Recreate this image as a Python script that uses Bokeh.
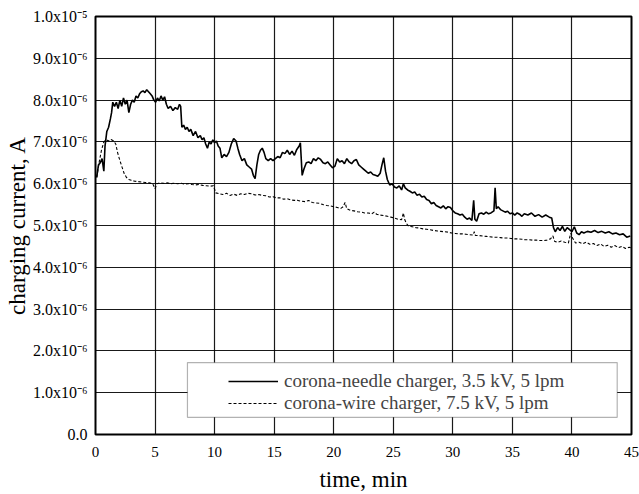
from bokeh.plotting import figure
from bokeh.models import (FixedTicker, Legend, LegendItem, BoxAnnotation, Range1d)
from bokeh.embed import file_html
from bokeh.resources import INLINE

# ---------------- data ----------------
needle_t = [0.1, 0.25, 0.4, 0.55, 0.7, 0.8, 0.95, 1.1, 1.25, 1.35, 1.45, 1.6, 1.75, 1.9,
            2.05, 2.2, 2.35, 2.5, 2.65, 2.8, 2.95, 3.1, 3.25, 3.4, 3.55, 3.7, 3.85, 4.0,
            4.15, 4.3, 4.45, 4.6, 4.75, 4.9, 5.05, 5.2, 5.35, 5.5, 5.65, 5.8, 5.95, 6.1,
            6.3, 6.5, 6.7, 6.9, 7.05, 7.15, 7.25, 7.4, 7.55, 7.7, 7.85, 8.0, 8.2, 8.4,
            8.6, 8.8, 8.95, 9.1, 9.25, 9.4, 9.55, 9.7, 9.85, 10.0, 10.15, 10.3, 10.45,
            10.6, 10.8, 11.0, 11.2, 11.4, 11.6, 11.8, 11.95, 12.1, 12.3, 12.5, 12.7,
            12.9, 13.1, 13.25, 13.4, 13.55, 13.7, 13.85, 14.0, 14.15, 14.3, 14.5, 14.7,
            14.9, 15.1, 15.3, 15.5, 15.7, 15.9, 16.1, 16.3, 16.5, 16.7, 16.9, 17.1,
            17.2, 17.35, 17.5, 17.7, 17.9, 18.1, 18.3, 18.5, 18.7, 18.9, 19.1, 19.3,
            19.5, 19.7, 19.9, 20.1, 20.3, 20.5, 20.7, 20.9, 21.1, 21.3, 21.5, 21.7,
            21.9, 22.1, 22.3, 22.5, 22.7, 22.9, 23.1, 23.3, 23.5, 23.7, 23.9, 24.05,
            24.2, 24.35, 24.5, 24.7, 24.9, 25.1, 25.3, 25.5, 25.7, 25.85, 26.0, 26.2,
            26.4, 26.6, 26.8, 27.0, 27.2, 27.4, 27.6, 27.8, 28.0, 28.2, 28.4, 28.6,
            28.8, 29.0, 29.2, 29.4, 29.6, 29.8, 30.0, 30.2, 30.4, 30.6, 30.8, 31.0,
            31.2, 31.4, 31.6, 31.75, 31.85, 32.0, 32.2, 32.4, 32.6, 32.8, 33.0, 33.2,
            33.45, 33.55, 33.65, 33.8, 34.0, 34.2, 34.4, 34.6, 34.8, 35.0, 35.2, 35.4,
            35.6, 35.8, 36.0, 36.3, 36.6, 36.9, 37.2, 37.5, 37.8, 38.1, 38.3, 38.45,
            38.6, 38.8, 39.0, 39.2, 39.4, 39.6, 39.8, 40.0, 40.2, 40.4, 40.6, 40.8,
            41.0, 41.3, 41.6, 41.9, 42.2, 42.5, 42.8, 43.1, 43.4, 43.7, 44.0, 44.3,
            44.6, 44.9]
needle_i = [6.15, 6.45, 6.5, 6.6, 6.3, 6.9, 7.25, 7.35, 7.55, 7.7, 7.95, 7.85, 7.95, 7.8,
            8.0, 7.85, 8.05, 7.9, 8.0, 7.7, 7.9, 8.0, 7.95, 8.1, 8.05, 8.15, 8.2, 8.22,
            8.18, 8.25, 8.2, 8.15, 8.1, 8.0, 7.95, 8.05, 7.98, 8.1, 8.0, 8.08, 7.9, 7.8,
            7.85, 7.75, 7.82, 7.78, 7.9, 7.85, 7.35, 7.4, 7.3, 7.35, 7.25, 7.3, 7.15, 7.25,
            7.1, 7.15, 7.05, 7.1, 6.95, 6.85, 7.0, 6.95, 7.05, 6.98, 7.02, 6.9, 6.85,
            6.62, 6.7, 6.65, 6.75, 6.95, 7.08, 7.02, 6.85, 6.7, 6.55, 6.6, 6.45,
            6.4, 6.35, 6.2, 6.12, 6.45, 6.7, 6.8, 6.85, 6.75, 6.6, 6.55, 6.6,
            6.55, 6.6, 6.65, 6.62, 6.75, 6.72, 6.8, 6.7, 6.78, 6.68, 6.82, 6.9,
            6.98, 6.2, 6.35, 6.5, 6.52, 6.48, 6.6, 6.55, 6.62, 6.58, 6.5, 6.48,
            6.52, 6.45, 6.38, 6.42, 6.6, 6.52, 6.55, 6.48, 6.6, 6.52, 6.48, 6.55,
            6.58, 6.45, 6.4, 6.35, 6.3, 6.25, 6.28, 6.22, 6.2, 6.18, 6.25, 6.45,
            6.62, 6.3, 6.1, 5.97, 6.0, 5.92, 5.9, 5.95, 5.85, 6.0, 5.9, 5.85,
            5.82, 5.78, 5.8, 5.72, 5.75, 5.68, 5.7, 5.62, 5.6, 5.52, 5.55, 5.48,
            5.45, 5.42, 5.47, 5.4, 5.45, 5.43, 5.35, 5.3, 5.28, 5.25, 5.27, 5.2,
            5.15, 5.18, 5.12, 5.6, 5.15, 5.1, 5.28, 5.3, 5.27, 5.32, 5.28, 5.3,
            5.35, 5.9, 5.4, 5.45, 5.38, 5.35, 5.32, 5.34, 5.28, 5.3, 5.25, 5.3,
            5.27, 5.22, 5.28, 5.25, 5.3, 5.22, 5.26, 5.2, 5.25, 5.2, 5.18, 4.95,
            4.85, 4.95, 4.88, 4.98, 4.86, 4.95, 4.9, 4.85, 4.97, 4.82, 4.78, 4.85,
            4.82, 4.86, 4.84, 4.88, 4.83, 4.86, 4.82, 4.85, 4.8, 4.82, 4.78, 4.8,
            4.72, 4.75]

wire_t = [0.1, 0.3, 0.5, 0.7, 0.9, 1.1, 1.3, 1.5, 1.7, 1.85, 2.0, 2.2, 2.4, 2.6, 2.8,
          3.0, 3.3, 3.6, 3.9, 4.2, 4.5, 4.8, 5.0, 5.15, 5.4, 5.7, 6.0, 6.3, 6.6, 6.9,
          7.2, 7.5, 7.8, 8.1, 8.4, 8.7, 9.0, 9.3, 9.6, 9.9, 10.1, 10.4, 10.7, 11.0,
          11.3, 11.6, 11.9, 12.2, 12.5, 12.8, 13.1, 13.4, 13.7, 14.0, 14.3, 14.6,
          14.9, 15.2, 15.5, 15.8, 16.1, 16.4, 16.7, 17.0, 17.3, 17.6, 17.9, 18.2,
          18.5, 18.8, 19.1, 19.4, 19.7, 20.0, 20.3, 20.6, 20.8, 20.95, 21.1, 21.4,
          21.7, 22.0, 22.3, 22.6, 22.9, 23.2, 23.4, 23.6, 23.9, 24.2, 24.5, 24.8,
          25.1, 25.4, 25.7, 25.85, 25.95, 26.1, 26.3, 26.6, 26.9, 27.2, 27.5, 27.8,
          28.1, 28.4, 28.7, 29.0, 29.3, 29.6, 29.9, 30.2, 30.5, 30.8, 31.1, 31.4,
          31.7, 31.8, 31.9, 32.2, 32.5, 32.8, 33.1, 33.4, 33.7, 34.0, 34.3, 34.6,
          34.9, 35.2, 35.5, 35.8, 36.1, 36.4, 36.7, 37.0, 37.3, 37.6, 37.9, 38.2,
          38.4, 38.55, 38.8, 39.1, 39.4, 39.7, 39.9, 40.05, 40.3, 40.6, 40.9, 41.2,
          41.5, 41.8, 42.1, 42.4, 42.7, 43.0, 43.3, 43.6, 43.9, 44.2, 44.5, 44.8, 45.0]
wire_i = [6.15, 6.5, 6.8, 7.0, 7.05, 7.02, 7.06, 7.03, 6.95, 6.75, 6.6, 6.42, 6.25, 6.15, 6.1,
          6.08, 6.06, 6.05, 6.04, 6.03, 6.02, 6.0, 5.88, 6.0, 6.02, 6.01, 6.02, 6.0, 6.01, 6.0,
          6.01, 5.99, 6.0, 5.98, 5.97, 5.98, 5.96, 5.95, 5.94, 5.95, 5.78, 5.76, 5.74, 5.77,
          5.72, 5.75, 5.72, 5.76, 5.74, 5.77, 5.76, 5.73, 5.74, 5.72, 5.71, 5.68,
          5.69, 5.66, 5.66, 5.63, 5.64, 5.61, 5.6, 5.6, 5.58, 5.57, 5.6, 5.55,
          5.54, 5.53, 5.5, 5.48, 5.47, 5.45, 5.43, 5.41, 5.45, 5.55, 5.4, 5.36,
          5.35, 5.33, 5.32, 5.3, 5.3, 5.28, 5.32, 5.27, 5.25, 5.24, 5.22, 5.2,
          5.18, 5.15, 5.14, 5.3, 5.15, 5.05, 4.98, 4.97, 4.95, 4.94, 4.92, 4.91,
          4.9, 4.88, 4.87, 4.86, 4.85, 4.84, 4.82, 4.81, 4.8, 4.8, 4.79, 4.78,
          4.77, 4.85, 4.76, 4.76, 4.75, 4.74, 4.73, 4.72, 4.72, 4.71, 4.7, 4.7,
          4.69, 4.68, 4.68, 4.67, 4.66, 4.66, 4.65, 4.65, 4.64, 4.64, 4.65, 4.68,
          4.75, 4.62, 4.6, 4.63, 4.6, 4.58, 4.82, 4.7, 4.58, 4.6, 4.56, 4.6,
          4.55, 4.57, 4.52, 4.56, 4.5, 4.53, 4.48, 4.52, 4.47, 4.5, 4.45, 4.48, 4.46]

# values above are in units of 1e-6 A
needle_amp = [v * 1e-6 for v in needle_i]
wire_amp = [v * 1e-6 for v in wire_i]

x_ticks = [0, 5, 10, 15, 20, 25, 30, 35, 40, 45]
y_ticks = [0.0, 1e-6, 2e-6, 3e-6, 4e-6, 5e-6, 6e-6, 7e-6, 8e-6, 9e-6, 1e-5]
y_tick_labels = ["0.0", "1.0x10\u207b\u2076", "2.0x10\u207b\u2076", "3.0x10\u207b\u2076",
                 "4.0x10\u207b\u2076", "5.0x10\u207b\u2076", "6.0x10\u207b\u2076",
                 "7.0x10\u207b\u2076", "8.0x10\u207b\u2076", "9.0x10\u207b\u2076",
                 "1.0x10\u207b\u2075"]
series_labels = ["corona-needle charger, 3.5 kV, 5 lpm",
                 "corona-wire charger, 7.5 kV, 5 lpm"]

FONT = "Liberation Serif"

p = figure(width=639, height=494, output_backend="svg", toolbar_location=None,
           x_range=Range1d(0, 45), y_range=Range1d(0, 1e-5),
           min_border_left=95, min_border_right=8, min_border_top=16, min_border_bottom=59)
p.background_fill_color = "white"
p.border_fill_color = "white"
p.outline_line_color = "black"
p.outline_line_width = 2

r1 = p.line(needle_t, needle_amp, line_color="black", line_width=1.6)
r2 = p.line(wire_t, wire_amp, line_color="black", line_width=1.1, line_dash="3 2")

p.xaxis.ticker = FixedTicker(ticks=x_ticks)
p.yaxis.ticker = FixedTicker(ticks=y_ticks)
p.yaxis.major_label_overrides = dict(zip(y_ticks, y_tick_labels))

for ax in (p.xaxis[0], p.yaxis[0]):
    ax.axis_line_color = None
    ax.major_tick_line_color = None
    ax.minor_tick_line_color = None
    ax.major_label_text_font = FONT
    ax.major_label_text_color = "black"
    ax.axis_label_text_font = FONT
    ax.axis_label_text_font_style = "normal"
    ax.axis_label_text_font_size = "23px"
    ax.axis_label_text_color = "black"

p.xaxis.major_label_text_font_size = "15px"
p.yaxis.major_label_text_font_size = "16px"
p.xaxis.major_label_standoff = 6
p.yaxis.major_label_standoff = 2
p.xaxis.axis_label_standoff = 7
p.yaxis.axis_label_standoff = 0
p.xaxis.axis_label = "time, min"
p.yaxis.axis_label = "charging current, A"

p.xgrid.grid_line_color = "black"
p.ygrid.grid_line_color = "black"
p.xgrid.grid_line_width = 1.2
p.ygrid.grid_line_width = 1.2
p.xgrid.grid_line_alpha = 0.9
p.ygrid.grid_line_alpha = 0.9

box = BoxAnnotation(left=7.72, right=43.8, bottom=0.41e-6, top=1.72e-6,
                    fill_color="white", fill_alpha=1.0,
                    line_color="black", line_width=1.2)
p.add_layout(box)

legend = Legend(items=[LegendItem(label=series_labels[0], renderers=[r1]),
                       LegendItem(label=series_labels[1], renderers=[r2])],
                location=(133, 20), padding=0, margin=0, spacing=0,
                glyph_width=50, glyph_height=20, label_height=20, label_standoff=6,
                label_text_font=FONT, label_text_font_size="19px",
                background_fill_alpha=0, border_line_color=None)
p.add_layout(legend)

open("out.html", "w").write(file_html(p, INLINE))
